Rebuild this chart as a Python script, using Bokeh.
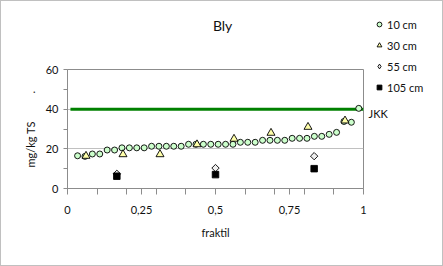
import numpy as np
from bokeh.plotting import figure
from bokeh.layouts import row, column
from bokeh.models import (FixedTicker, Legend, LegendItem, Range1d, Label,
                          ColumnDataSource)
from bokeh.embed import file_html
from bokeh.resources import INLINE

# ---- data ----
c10_x = [0.034, 0.059, 0.084, 0.109, 0.134, 0.159, 0.184, 0.209, 0.234, 0.259,
         0.284, 0.309, 0.334, 0.359, 0.384, 0.409, 0.434, 0.459, 0.484, 0.509,
         0.534, 0.559, 0.584, 0.609, 0.634, 0.659, 0.684, 0.709, 0.734, 0.759,
         0.784, 0.809, 0.834, 0.859, 0.884, 0.909, 0.934, 0.959, 0.984]
c10_y = [16.5, 16.2, 17.4, 17.4, 19.4, 19.4, 20.5, 20.5, 20.5, 20.5,
         21.3, 21.3, 21.3, 21.3, 21.3, 22.3, 22.3, 22.3, 22.3, 22.3,
         22.3, 22.3, 23.3, 23.3, 23.3, 24.3, 24.3, 24.3, 24.3, 25.3,
         25.3, 25.3, 26.3, 26.3, 27.3, 28.3, 33.8, 33.4, 40.4]
c30_x = [0.0625, 0.1875, 0.3125, 0.4375, 0.5625, 0.6875, 0.8125, 0.9375]
c30_y = [16.4, 17.2, 17.2, 22.2, 25.0, 28.0, 31.0, 34.2]
c55_x = [0.1667, 0.5, 0.8333]
c55_y = [7.4, 10.3, 16.3]
c105_x = [0.1667, 0.5, 0.8333]
c105_y = [6.2, 7.0, 10.0]
jkk_x = [0.01, 1.0]
jkk_y = [40, 40]
jkk_label = "JKK"
title_text = "Bly"
series_labels = ["10 cm", "30 cm", "55 cm", "105 cm"]
x_ticks = [0, 0.25, 0.5, 0.75, 1]
x_tick_labels = ["0", "0,25", "0,5", "0,75", "1"]
x_minor = [0.1, 0.2, 0.3, 0.4, 0.6, 0.7, 0.8, 0.9]
y_ticks = [0, 20, 40, 60]
y_minor = [10, 30, 50]
Y_MIN, Y_MAX = 0, 60

FONT = "Lato"
TXT = "#111111"
GRAY = "#8c8c8c"

# ---- layout constants (canvas px inside the 1px outer border) ----
TOTAL_W, TOTAL_H = 441, 264
LEFT_W = 366           # width of the main (axes) column
RIGHT_W = TOTAL_W - LEFT_W
TOP_H = 50             # strip holding the title
FRAME_L, FRAME_R, FRAME_T, FRAME_B = 66, 362, 68, 187

series_x = [c10_x, c30_x, c55_x, c105_x]
series_y = [c10_y, c30_y, c55_y, c105_y]
# plot marks (diamond = square turned 45 degrees)
series_style = [
    dict(marker="circle", size=6, fill_color="#ccffcc", angle=0),
    dict(marker="triangle", size=8, fill_color="#ffffaa", angle=0),
    dict(marker="square", size=5.2, fill_color="#eeeeee", angle=np.pi / 4),
    dict(marker="square", size=6.5, fill_color="#000000", angle=0),
]
# legend keys (the legend ignores angle, so use the diamond marker there)
key_style = [
    dict(marker="circle", size=6, fill_color="#ccffcc"),
    dict(marker="triangle", size=8, fill_color="#ffffaa"),
    dict(marker="diamond", size=9, fill_color="#eeeeee"),
    dict(marker="square", size=6.5, fill_color="#000000"),
]


def bare(width, height, **kw):
    f = figure(width=width, height=height, output_backend="svg",
               toolbar_location=None, x_axis_type=None, y_axis_type=None,
               min_border=0, **kw)
    f.outline_line_color = None
    f.background_fill_color = "white"
    f.border_fill_color = "white"
    f.xgrid.visible = False
    f.ygrid.visible = False
    return f


# ---- title strip (its frame lines up with the plot frame below) ----
t = bare(LEFT_W, TOP_H, x_range=Range1d(0, 1), y_range=Range1d(0, 1))
t.add_layout(Label(x=0.524, y=TOP_H - 24, x_units="data", y_units="screen",
                   text=title_text, text_align="center",
                   text_baseline="middle", text_font=FONT,
                   text_font_size="14px", text_color=TXT))

# ---- main plot ----
p = figure(width=LEFT_W, height=TOTAL_H - TOP_H, output_backend="svg",
           toolbar_location=None,
           x_range=Range1d(0, 1), y_range=Range1d(Y_MIN, Y_MAX),
           min_border_left=FRAME_L, min_border_right=LEFT_W - FRAME_R,
           min_border_top=FRAME_T - TOP_H, min_border_bottom=TOTAL_H - FRAME_B)
p.background_fill_color = "white"
p.border_fill_color = "white"
p.outline_line_color = GRAY
p.outline_line_width = 1

p.xaxis.ticker = FixedTicker(ticks=x_ticks, minor_ticks=x_minor)
p.xaxis.major_label_overrides = {tk: lb for tk, lb in zip(x_ticks, x_tick_labels)}
p.yaxis.ticker = FixedTicker(ticks=y_ticks, minor_ticks=y_minor)
for ax in (p.xaxis, p.yaxis):
    ax.axis_line_color = GRAY
    ax.major_tick_line_color = GRAY
    ax.minor_tick_line_color = GRAY
    ax.major_tick_in = 0
    ax.minor_tick_in = 0
    ax.major_label_text_font = FONT
    ax.major_label_text_font_size = "11px"
    ax.major_label_text_color = TXT
    ax.axis_label_text_font = FONT
    ax.axis_label_text_font_size = "11px"
    ax.axis_label_text_font_style = "normal"
    ax.axis_label_text_color = TXT
p.xaxis.major_tick_out = 6
p.xaxis.minor_tick_out = 6
p.yaxis.major_tick_out = 4
p.yaxis.minor_tick_out = 4
p.xaxis.major_label_standoff = 11
p.yaxis.major_label_standoff = 5
p.xaxis.axis_label = "fraktil"
p.xaxis.axis_label_standoff = 9
p.yaxis.axis_label = "mg/kg TS" + "\u00a0" * 10 + "."
p.yaxis.axis_label_standoff = 6

p.xgrid.visible = False
p.ygrid.grid_line_color = "#c0c0c0"
p.ygrid.grid_line_width = 1

p.line(jkk_x, jkk_y, line_color="#008000", line_width=3)
for xs, ys, st in zip(series_x, series_y, series_style):
    p.scatter(xs, ys, line_color="#000000", line_width=0.9, **st)

# ---- right strip: legend + JKK label, same vertical scale as the plot ----
px_per_unit = (FRAME_B - FRAME_T) / (Y_MAX - Y_MIN)
q_y_top = Y_MAX + FRAME_T / px_per_unit
q_y_bot = Y_MIN - (TOTAL_H - FRAME_B) / px_per_unit
q = bare(RIGHT_W, TOTAL_H, x_range=Range1d(0, 1),
         y_range=Range1d(q_y_bot, q_y_top))

# legend keys: renderers holding one undefined (NaN) point, so only the key shows
key_renderers = []
for st in key_style:
    src = ColumnDataSource(data=dict(x=np.array([np.nan]), y=np.array([np.nan])))
    r = q.scatter("x", "y", source=src, line_color="#000000", line_width=0.9,
                  **st)
    key_renderers.append(r)

legend = Legend(items=[LegendItem(label=lb, renderers=[r]) for lb, r in
                       zip(series_labels, key_renderers)],
                location=(6, TOTAL_H - 96), orientation="vertical",
                glyph_width=12, glyph_height=20, label_height=20, spacing=1,
                padding=0, margin=0, label_standoff=2,
                label_text_font=FONT, label_text_font_size="11px",
                label_text_color=TXT,
                border_line_alpha=0, background_fill_alpha=0)
q.add_layout(legend)
q.add_layout(Label(x=1, y=jkk_y[0], x_units="screen", y_units="data",
                   y_offset=-4, text=jkk_label, text_baseline="middle",
                   text_font=FONT, text_font_size="11px", text_color=TXT))

layout = row(column(t, p, spacing=0), q, spacing=0)
layout.styles = {"border": "1px solid #c0c0c0", "background": "white"}

open("out.html", "w").write(file_html(layout, INLINE))
